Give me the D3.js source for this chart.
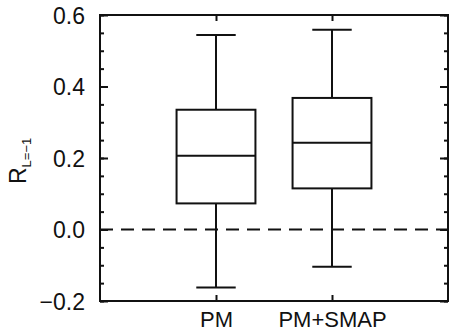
<!DOCTYPE html>
<html>
<head>
<meta charset="utf-8">
<script src="https://cdn.jsdelivr.net/npm/d3@7"></script>
<style>
  body { margin: 0; background: #fff; }
  text { font-family: "Liberation Sans", Arial, sans-serif; fill: #111; }
</style>
</head>
<body>
<div id="chart"></div>
<script>
// box-plot summary
const groups = ["PM", "PM+SMAP"];
const whiskerLow = [-0.162, -0.104];
const q1 = [0.073, 0.115];
const median = [0.206, 0.243];
const q3 = [0.335, 0.368];
const whiskerHigh = [0.544, 0.559];

const majorTicks = [-0.2, 0.0, 0.2, 0.4, 0.6];
const minorTicks = d3.range(-0.2, 0.6001, 0.05);

const width = 452, height = 333,
  margin = ({ top: 15, right: 4, bottom: 32, left: 100 });

const svg = d3.select("#chart")
  .append("svg")
  .attr("width", width)
  .attr("height", height);

const data = groups.map((g, i) => ({
  name: g, pos: i + 1,
  lo: whiskerLow[i], q1: q1[i], med: median[i], q3: q3[i], hi: whiskerHigh[i]
}));

let x = d3.scaleLinear()
  .domain([0, 3])
  .range([margin.left, width - margin.right]);

let y = d3.scaleLinear()
  .domain([-0.2, 0.6])
  .range([height - margin.bottom, margin.top]);

const stroke = "#111";

// zero reference line
svg.append("line")
  .attr("x1", x(0)).attr("x2", x(3))
  .attr("y1", y(0)).attr("y2", y(0))
  .attr("stroke", stroke)
  .attr("stroke-width", 2)
  .attr("stroke-dasharray", "13,8");

// boxes
const box = svg.selectAll("g.box")
  .data(data)
  .join("g")
  .attr("class", "box")
  .attr("stroke", stroke)
  .attr("stroke-width", 2)
  .attr("fill", "none");

box.append("line") // upper whisker
  .attr("x1", d => x(d.pos)).attr("x2", d => x(d.pos))
  .attr("y1", d => y(d.q3)).attr("y2", d => y(d.hi));
box.append("line") // lower whisker
  .attr("x1", d => x(d.pos)).attr("x2", d => x(d.pos))
  .attr("y1", d => y(d.q1)).attr("y2", d => y(d.lo));
box.append("line")
  .attr("x1", d => x(d.pos - 0.17)).attr("x2", d => x(d.pos + 0.17))
  .attr("y1", d => y(d.hi)).attr("y2", d => y(d.hi));
box.append("line")
  .attr("x1", d => x(d.pos - 0.17)).attr("x2", d => x(d.pos + 0.17))
  .attr("y1", d => y(d.lo)).attr("y2", d => y(d.lo));
box.append("rect")
  .attr("x", d => x(d.pos - 0.34))
  .attr("width", d => x(d.pos + 0.34) - x(d.pos - 0.34))
  .attr("y", d => y(d.q3))
  .attr("height", d => y(d.q1) - y(d.q3))
  .attr("fill", "none");
box.append("line") // median
  .attr("x1", d => x(d.pos - 0.34)).attr("x2", d => x(d.pos + 0.34))
  .attr("y1", d => y(d.med)).attr("y2", d => y(d.med));

// axes: ticks point inward
function styleAxis(g) {
  g.select(".domain").remove();
  g.selectAll(".tick line").attr("stroke", stroke).attr("stroke-width", 2);
  g.selectAll("text").style("font-size", "23px").attr("fill", "#111");
}

svg.append("g")
  .attr("transform", `translate(${margin.left},0)`)
  .call(d3.axisLeft(y).tickValues(minorTicks).tickSize(-4).tickFormat(""))
  .call(styleAxis);
svg.append("g")
  .attr("transform", `translate(${margin.left},0)`)
  .call(d3.axisLeft(y).tickValues(majorTicks).tickSize(-8).tickPadding(15)
    .tickFormat(d => d3.format(".1f")(d).replace("-", "\u2212")))
  .call(styleAxis)
  .selectAll("text").attr("dy", "0.36em");

svg.append("g")
  .attr("transform", `translate(${width - margin.right},0)`)
  .call(d3.axisRight(y).tickValues(minorTicks).tickSize(-4).tickFormat(""))
  .call(styleAxis);
svg.append("g")
  .attr("transform", `translate(${width - margin.right},0)`)
  .call(d3.axisRight(y).tickValues(majorTicks).tickSize(-8).tickFormat(""))
  .call(styleAxis);

svg.append("g")
  .attr("transform", `translate(0,${height - margin.bottom})`)
  .call(d3.axisBottom(x).tickValues(data.map(d => d.pos)).tickSize(-6).tickPadding(10)
    .tickFormat((d, i) => groups[i]))
  .call(styleAxis)
  .selectAll("text").style("font-size", "22px");
svg.append("g")
  .attr("transform", `translate(0,${margin.top})`)
  .call(d3.axisTop(x).tickValues(data.map(d => d.pos)).tickSize(-6).tickFormat(""))
  .call(styleAxis);

// frame
svg.append("rect")
  .attr("x", margin.left).attr("y", margin.top)
  .attr("width", width - margin.right - margin.left)
  .attr("height", height - margin.bottom - margin.top)
  .attr("fill", "none")
  .attr("stroke", stroke)
  .attr("stroke-width", 2);

// y label R_{L=-1}
const yl = svg.append("text")
  .attr("transform", `translate(26,${(margin.top + height - margin.bottom) / 2 + 26}) rotate(-90)`)
  .attr("text-anchor", "start")
  .style("font-size", "23px");
yl.append("tspan").text("R");
yl.append("tspan").attr("dy", 5).style("font-size", "13px").text("L=\u22121");
</script>
</body>
</html>
